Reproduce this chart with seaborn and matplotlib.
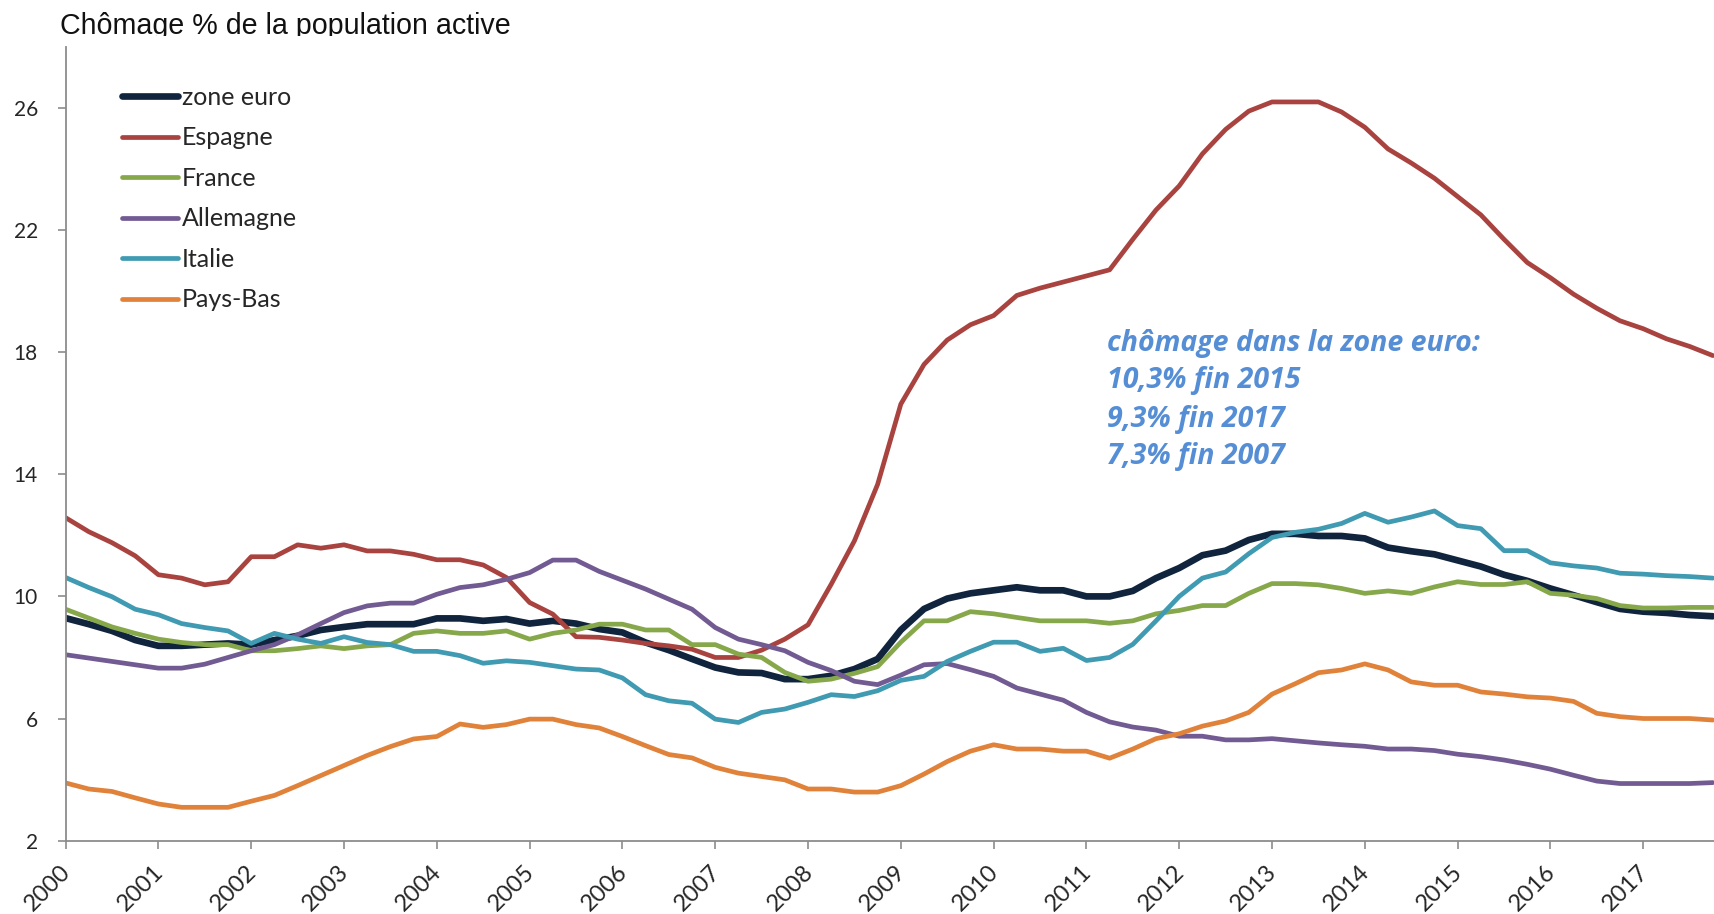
import numpy as np
import pandas as pd
import matplotlib
matplotlib.use("Agg")
import matplotlib.pyplot as plt
import seaborn as sns
from matplotlib.transforms import Bbox, TransformedBbox, ScaledTranslation

# Données trimestrielles 2000T1 -> 2017T4
annees = list(range(2000, 2018))
trimestres = [f"{a}T{t}" for a in annees for t in range(1, 5)]

zone_euro = [9.29, 9.09, 8.87, 8.57, 8.38, 8.38, 8.42, 8.46, 8.42, 8.57, 8.71, 8.9, 9.0, 9.09, 9.09, 9.09, 9.28, 9.28,
             9.2, 9.26, 9.11, 9.2, 9.11, 8.93, 8.82, 8.49, 8.24, 7.95, 7.67, 7.51, 7.49, 7.29, 7.29, 7.4, 7.62, 7.95,
             8.9, 9.59, 9.93, 10.1, 10.2, 10.3, 10.2, 10.2, 10.0, 10.0, 10.18, 10.6, 10.93, 11.35, 11.5, 11.85, 12.05, 12.05,
             11.98, 11.98, 11.9, 11.6, 11.48, 11.38, 11.18, 10.98, 10.71, 10.51, 10.26, 10.04, 9.81, 9.59, 9.5, 9.46, 9.39, 9.35]
espagne = [12.58, 12.12, 11.76, 11.33, 10.71, 10.6, 10.38, 10.48, 11.3, 11.3, 11.69, 11.58, 11.69, 11.49, 11.49, 11.38, 11.2, 11.2,
           11.03, 10.62, 9.8, 9.42, 8.68, 8.66, 8.57, 8.46, 8.38, 8.27, 8.0, 8.0, 8.24, 8.6, 9.07, 10.4, 11.82, 13.67,
           16.3, 17.6, 18.4, 18.9, 19.2, 19.86, 20.1, 20.3, 20.5, 20.7, 21.7, 22.66, 23.45, 24.5, 25.3, 25.9, 26.2, 26.2,
           26.2, 25.87, 25.37, 24.66, 24.2, 23.7, 23.1, 22.5, 21.7, 20.94, 20.44, 19.9, 19.44, 19.03, 18.77, 18.44, 18.19, 17.89]
france = [9.58, 9.29, 9.0, 8.79, 8.6, 8.49, 8.42, 8.42, 8.22, 8.22, 8.29, 8.38, 8.29, 8.38, 8.42, 8.79, 8.87, 8.79,
          8.79, 8.87, 8.6, 8.79, 8.9, 9.09, 9.09, 8.9, 8.9, 8.42, 8.42, 8.11, 8.0, 7.51, 7.22, 7.29, 7.48, 7.7,
          8.5, 9.2, 9.2, 9.5, 9.43, 9.31, 9.2, 9.2, 9.2, 9.12, 9.2, 9.43, 9.54, 9.7, 9.7, 10.1, 10.42, 10.42,
          10.38, 10.26, 10.1, 10.18, 10.1, 10.31, 10.48, 10.39, 10.39, 10.48, 10.1, 10.04, 9.93, 9.7, 9.62, 9.62, 9.64, 9.64]
allemagne = [8.09, 7.98, 7.87, 7.76, 7.65, 7.65, 7.78, 8.0, 8.22, 8.42, 8.74, 9.11, 9.47, 9.69, 9.78, 9.78, 10.07, 10.29,
             10.38, 10.56, 10.78, 11.19, 11.19, 10.82, 10.53, 10.24, 9.91, 9.58, 8.98, 8.6, 8.42, 8.22, 7.84, 7.57, 7.22, 7.11,
             7.42, 7.76, 7.8, 7.6, 7.38, 7.0, 6.8, 6.6, 6.2, 5.89, 5.72, 5.62, 5.42, 5.42, 5.3, 5.3, 5.34, 5.27,
             5.2, 5.14, 5.09, 5.0, 5.0, 4.95, 4.83, 4.75, 4.64, 4.5, 4.34, 4.14, 3.95, 3.87, 3.87, 3.87, 3.87, 3.9]
italie = [10.62, 10.29, 9.99, 9.58, 9.4, 9.11, 8.98, 8.87, 8.46, 8.79, 8.6, 8.46, 8.68, 8.49, 8.42, 8.2, 8.2, 8.06,
          7.81, 7.89, 7.84, 7.73, 7.62, 7.59, 7.33, 6.78, 6.58, 6.5, 5.98, 5.87, 6.2, 6.31, 6.53, 6.78, 6.72, 6.91,
          7.25, 7.38, 7.87, 8.2, 8.5, 8.5, 8.2, 8.3, 7.9, 8.0, 8.43, 9.2, 10.0, 10.6, 10.8, 11.4, 11.93, 12.1,
          12.2, 12.39, 12.72, 12.43, 12.6, 12.8, 12.32, 12.22, 11.5, 11.5, 11.1, 11.0, 10.93, 10.76, 10.73, 10.68, 10.65, 10.6]
pays_bas = [3.89, 3.69, 3.61, 3.4, 3.2, 3.09, 3.09, 3.09, 3.29, 3.48, 3.8, 4.13, 4.46, 4.79, 5.08, 5.33, 5.41, 5.82,
            5.71, 5.8, 5.98, 5.98, 5.8, 5.69, 5.41, 5.11, 4.82, 4.71, 4.4, 4.21, 4.1, 3.99, 3.69, 3.69, 3.59, 3.59,
            3.8, 4.18, 4.59, 4.93, 5.14, 5.0, 5.0, 4.93, 4.93, 4.7, 5.0, 5.34, 5.5, 5.75, 5.92, 6.2, 6.8, 7.14,
            7.5, 7.59, 7.79, 7.59, 7.2, 7.09, 7.09, 6.87, 6.8, 6.71, 6.67, 6.56, 6.17, 6.06, 6.0, 6.0, 6.0, 5.95]

pays = ["zone euro", "Espagne", "France", "Allemagne", "Italie", "Pays-Bas"]
couleurs = ["#10243E", "#A9433F", "#86A84A", "#715B92", "#3F9AB2", "#E0823A"]
epaisseurs = [4.8, 3.4, 3.4, 3.4, 3.4, 3.4]

texte_annotation = ["chômage dans la zone euro:", "10,3% fin 2015", "9,3% fin 2017", "7,3% fin 2007"]

df = pd.DataFrame({"trimestre": trimestres,
                   "zone euro": zone_euro, "Espagne": espagne, "France": france,
                   "Allemagne": allemagne, "Italie": italie, "Pays-Bas": pays_bas})
df["x"] = np.arange(len(df))

sns.set_style("white")
plt.rcParams["font.family"] = ["Lato", "DejaVu Sans"]

fig = plt.figure(figsize=(17.14, 9.14), dpi=100)
ax = fig.add_axes([65.6 / 1714, 1 - 840.6 / 914, 1 - 65.6 / 1714, (840.6 - 47) / 914])

for nom, couleur, lw in zip(pays, couleurs, epaisseurs):
    sns.lineplot(data=df, x="x", y=nom, ax=ax, color=couleur, linewidth=lw, label=nom,
                 solid_joinstyle="round", solid_capstyle="round")

ax.set_xlim(0, 71.05)
ax.set_ylim(2, 28)
ax.set_yticks(range(2, 27, 4))
ax.set_xticks(range(0, 72, 4))
ax.set_xticklabels([str(a) for a in annees])
ax.set_xlabel("")
ax.set_ylabel("")

for cote in ["top", "right"]:
    ax.spines[cote].set_visible(False)
for cote in ["left", "bottom"]:
    ax.spines[cote].set_color("#8C8C8C")
    ax.spines[cote].set_linewidth(1.3)

ax.tick_params(axis="y", direction="out", length=6, width=1.2, color="#8C8C8C",
               labelsize=15, pad=14, left=True)
ax.tick_params(axis="x", direction="out", length=6, width=1.2, color="#8C8C8C",
               labelsize=17, pad=9, bottom=True)
decalage = ScaledTranslation(9 / 100, 0, fig.dpi_scale_trans)
for lab in ax.get_xticklabels():
    lab.set_rotation(45)
    lab.set_ha("right")
    lab.set_va("top")
    lab.set_transform(lab.get_transform() + decalage)

leg = ax.legend(loc="upper left", bbox_to_anchor=(0.034, 0.951), frameon=False,
                fontsize=18, handlelength=2.25, handletextpad=0.16,
                labelspacing=0.7, borderpad=0, borderaxespad=0)
for h in leg.get_lines():
    h.set_solid_capstyle("round")

# annotation
y_lignes = [18.3, 17.07, 15.79, 14.58]
for ligne, y in zip(texte_annotation, y_lignes):
    ax.text(44.9, y, ligne, color="#558ED5", fontsize=20.5, fontweight="bold",
            fontstyle="italic", family=["Open Sans", "DejaVu Sans"], va="center", ha="left")

# titre (coupé en bas comme sur l'original)
titre = fig.text(60 / 1714, 1 - 33.5 / 914, "Chômage % de la population active",
                 fontsize=20.6, family=["Liberation Sans", "DejaVu Sans"], va="baseline", color="#111111")
titre.set_clip_box(TransformedBbox(Bbox([[0, 1 - 35.5 / 914], [1, 1]]), fig.transFigure))
titre.set_clip_on(True)

fig.savefig("out.png", dpi=100)
